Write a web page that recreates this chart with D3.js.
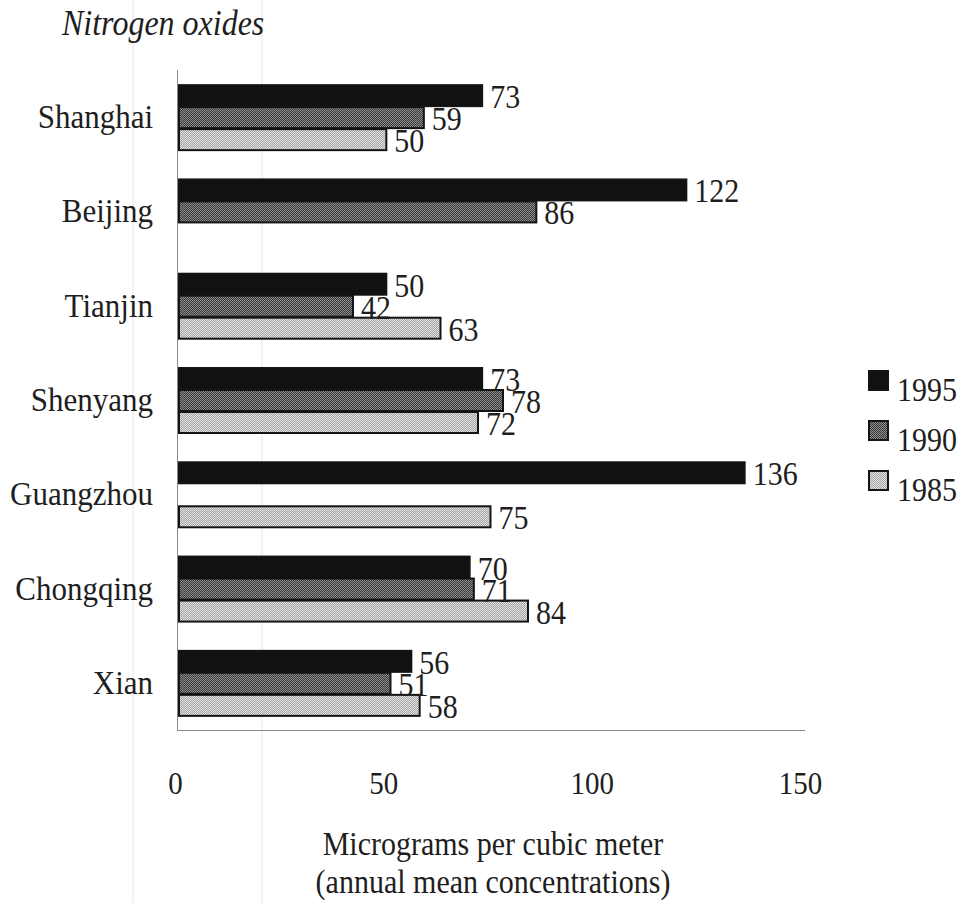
<!DOCTYPE html>
<html>
<head>
<meta charset="utf-8">
<script src="https://cdn.jsdelivr.net/npm/d3@7"></script>
<style>
  html, body { margin: 0; padding: 0; background: #fff; }
  svg text { font-family: "Liberation Serif", "Times New Roman", serif; fill: #1e1e1e; }
</style>
</head>
<body>
<svg id="chart" width="963" height="903"></svg>
<script>
// Annual mean NOx concentrations, micrograms per cubic meter
const cities = ["Shanghai", "Beijing", "Tianjin", "Shenyang", "Guangzhou", "Chongqing", "Xian"];
const years = ["1995", "1990", "1985"];
const values1995 = [73, 122, 50, 73, 136, 70, 56];
const values1990 = [59, 86, 42, 78, null, 71, 51];
const values1985 = [50, null, 63, 72, 75, 84, 58];
const xTicks = [0, 50, 100, 150];

const seriesByYear = { "1995": values1995, "1990": values1990, "1985": values1985 };

// type is set slightly tall and narrow
const STRETCH = 1.12;
function placeText(sel, fx, fy) {
  sel.attr("x", 0).attr("y", 0)
    .attr("transform", (d, i) => `translate(${fx(d, i)},${fy(d, i)}) scale(1,${STRETCH})`);
  return sel;
}

const svg = d3.select("#chart");
const defs = svg.append("defs");

// fine halftone fills for the two older years
function checker(id, a, b) {
  const p = defs.append("pattern").attr("id", id)
    .attr("width", 2).attr("height", 2).attr("patternUnits", "userSpaceOnUse");
  p.append("rect").attr("width", 2).attr("height", 2).attr("fill", a);
  p.append("rect").attr("width", 1).attr("height", 1).attr("fill", b);
  p.append("rect").attr("x", 1).attr("y", 1).attr("width", 1).attr("height", 1).attr("fill", b);
}
checker("fill1990", "#3a3a3a", "#8c8c8c");
checker("fill1985", "#a4a4a4", "#e2e2e2");
const fills = { "1995": "#111", "1990": "url(#fill1990)", "1985": "url(#fill1985)" };

// faint vertical rules running down the page
svg.selectAll("line.rule").data([133, 262]).join("line")
  .attr("class", "rule")
  .attr("x1", d => d).attr("x2", d => d).attr("y1", 0).attr("y2", 903)
  .attr("stroke", "#e6e6e6").attr("stroke-width", 1);

const x = d3.scaleLinear().domain([0, 150]).range([178, 803]);
const y0 = d3.scaleBand().domain(cities).range([70, 730]).paddingInner(0.3).paddingOuter(0.15);
const y1 = d3.scaleBand().domain(years).range([0, y0.bandwidth()]);

// axis lines
svg.append("line").attr("x1", 177.5).attr("x2", 177.5).attr("y1", 70).attr("y2", 730)
  .attr("stroke", "#8a8a8a").attr("stroke-width", 1);
svg.append("line").attr("x1", 177).attr("x2", 805).attr("y1", 730.5).attr("y2", 730.5)
  .attr("stroke", "#8a8a8a").attr("stroke-width", 1);

// bars
const rows = [];
cities.forEach((c, i) => years.forEach(yr => {
  const v = seriesByYear[yr][i];
  if (v != null) rows.push({ city: c, year: yr, value: v });
}));

const g = svg.append("g");
g.selectAll("rect.bar").data(rows).join("rect")
  .attr("class", "bar")
  .attr("x", x(0) + 1)
  .attr("y", d => y0(d.city) + y1(d.year) + 1)
  .attr("width", d => x(d.value) - x(0) - 1)
  .attr("height", y1.bandwidth() - 1)
  .attr("fill", d => fills[d.year])
  .attr("stroke", "#141414").attr("stroke-width", 2);

// value labels
placeText(g.selectAll("text.val").data(rows).join("text").attr("class", "val"),
    d => x(d.value) + 8,
    d => y0(d.city) + y1(d.year) + y1.bandwidth() / 2 + 13)
  .attr("font-size", 30)
  .text(d => d.value);

// category labels
placeText(svg.selectAll("text.cat").data(cities).join("text").attr("class", "cat"),
    () => 153,
    d => y0(d) + y0.bandwidth() / 2 + 11)
  .attr("text-anchor", "end")
  .attr("font-size", 31)
  .text(d => d);

// x axis tick labels
const xAxis = svg.append("g").attr("transform", "translate(-3,794)")
  .call(d3.axisBottom(x).tickValues(xTicks).tickSize(0).tickPadding(0).tickFormat(d3.format("d")));
xAxis.select(".domain").remove();
xAxis.selectAll("text")
  .attr("dy", 0).attr("y", 0)
  .attr("transform", `scale(1,${STRETCH})`)
  .attr("font-size", 29)
  .style("font-family", "\"Liberation Serif\", \"Times New Roman\", serif")
  .attr("fill", "#1e1e1e");

// axis title
placeText(svg.selectAll("text.xtitle")
    .data(["Micrograms per cubic meter", "(annual mean concentrations)"])
    .join("text").attr("class", "xtitle"),
    () => 493, (d, i) => 855 + i * 38)
  .attr("text-anchor", "middle")
  .attr("font-size", 30).text(d => d);

// chart title
placeText(svg.selectAll("text.title").data(["Nitrogen oxides"]).join("text").attr("class", "title"),
    () => 62, () => 35)
  .attr("font-size", 32).attr("font-style", "italic").text(d => d);

// legend
const legend = svg.append("g").attr("transform", "translate(869,0)");
const ly = d3.scalePoint().domain(years).range([370, 470]);
legend.selectAll("rect").data(years).join("rect")
  .attr("x", 0).attr("y", d => ly(d) + 1).attr("width", 19).attr("height", 19)
  .attr("fill", d => fills[d]).attr("stroke", "#141414").attr("stroke-width", 2);
placeText(legend.selectAll("text").data(years).join("text"),
    () => 28, d => ly(d) + 31)
  .attr("font-size", 30).text(d => d);
</script>
</body>
</html>
